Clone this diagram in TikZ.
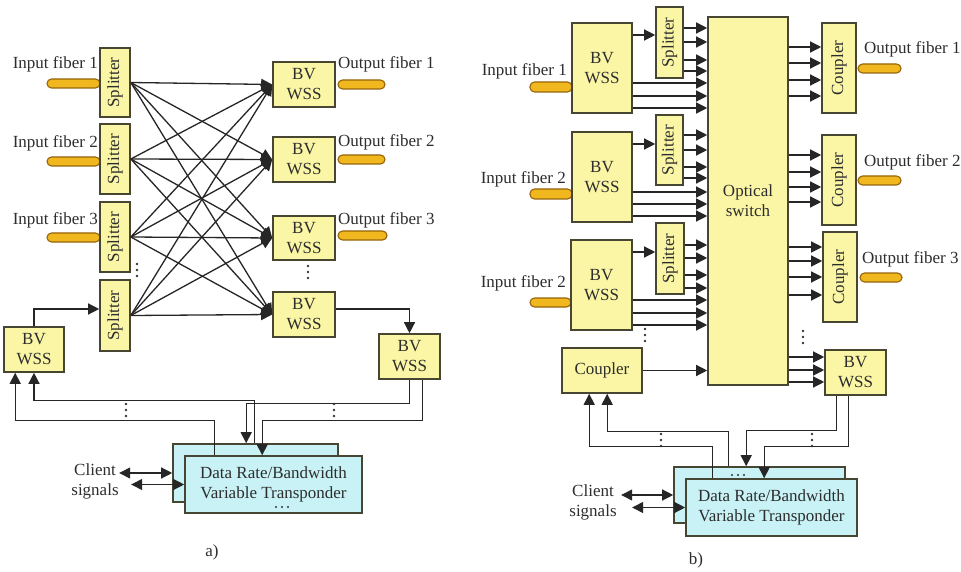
\documentclass[tikz,border=0pt]{standalone}
\usepackage{fontspec}
\setmainfont{Liberation Serif}
\usepackage{graphicx}
\usetikzlibrary{arrows.meta,calc}
\definecolor{boxy}{RGB}{250,246,165}
\definecolor{boxd}{RGB}{70,70,50}
\definecolor{fibf}{RGB}{240,184,30}
\definecolor{fibd}{RGB}{150,100,10}
\definecolor{trf}{RGB}{200,242,245}
\definecolor{txt}{RGB}{45,45,45}
\newcommand{\myvdots}[2]{\foreach \k in {-6,0,6}{\fill[black!80] (#1,#2+\k) circle (1.3pt);}}
\newcommand{\myhdots}[2]{\foreach \k in {-6,0,6}{\fill[black!80] (#1+\k,#2) circle (1.2pt);}}
\begin{document}
\begin{tikzpicture}[x=1pt,y=-1pt,
  box/.style={draw=boxd,fill=boxy,line width=1.6pt,inner sep=0pt,align=center,font=\fontsize{17}{20}\selectfont,text=txt},
  trbox/.style={box,fill=trf},
  fiber/.style={draw=fibd,fill=fibf,line width=1.1pt,rounded corners=4.5pt},
  lbl/.style={font=\fontsize{17}{20}\selectfont,text=txt,inner sep=0pt},
  arr/.style={draw=black!85,line width=1.3pt,-{Triangle[length=11pt,width=11pt]}},
  darr/.style={draw=black!85,line width=1.3pt,{Triangle[length=11pt,width=11pt]}-{Triangle[length=11pt,width=11pt]}},
  ln/.style={draw=black!85,line width=1.3pt}
]
\fill[white] (0,0) rectangle (961,572);
\useasboundingbox (0,0) rectangle (961,572);

% ================= (a) =================
% fibers
\draw[fiber] (47,79) rectangle (100,88);
\draw[fiber] (47,157) rectangle (100,166);
\draw[fiber] (47,233) rectangle (100,242);
\draw[fiber] (338,80) rectangle (385,89);
\draw[fiber] (338,155) rectangle (385,164);
\draw[fiber] (338,231) rectangle (387,240);

\node[box,minimum width=30pt,minimum height=69pt] (spA1) at (115,82.5) {\rotatebox{90}{Splitter}};
\node[box,minimum width=30pt,minimum height=70pt] (spA2) at (115,159) {\rotatebox{90}{Splitter}};
\node[box,minimum width=30pt,minimum height=70pt] (spA3) at (115,237) {\rotatebox{90}{Splitter}};
\node[box,minimum width=30pt,minimum height=71pt] (spA4) at (115,315.5) {\rotatebox{90}{Splitter}};
\node[box,minimum width=62pt,minimum height=45pt] (wA1) at (304,84.5) {BV\\WSS};
\node[box,minimum width=62pt,minimum height=45pt] (wA2) at (304,159.5) {BV\\WSS};
\node[box,minimum width=62pt,minimum height=44pt] (wA3) at (304,238) {BV\\WSS};
\node[box,minimum width=62pt,minimum height=45pt] (wA4) at (304,314.5) {BV\\WSS};
\node[box,minimum width=60pt,minimum height=45pt] (wAL) at (34,349.5) {BV\\WSS};
\node[box,minimum width=61pt,minimum height=45pt] (wAR) at (409.5,356.5) {BV\\WSS};
\node[trbox,minimum width=165pt,minimum height=58pt] (trAb) at (255.5,473) {};
\node[trbox,minimum width=177pt,minimum height=57pt] (trAf) at (273.5,484.5) {Data Rate/Bandwidth\\Variable Transponder};

\node[lbl,anchor=base east] (inA1) at (98,68.5) {Input fiber 1};
\node[lbl,anchor=base east] (inA2) at (98,148) {Input fiber 2};
\node[lbl,anchor=base east] (inA3) at (98,225) {Input fiber 3};
\node[lbl,anchor=base west] (outA1) at (338,69) {Output fiber 1};
\node[lbl,anchor=base west] (outA2) at (338,147) {Output fiber 2};
\node[lbl,anchor=base west] (outA3) at (338,225) {Output fiber 3};

\foreach \i in {1,...,4}{\foreach \j in {1,...,4}{\draw[arr] (spA\i.east) -- (wA\j.west);}}

\draw[arr] (wAL.north) -- (wAL.north |- 0,309) -- (spA4.west |- 0,309);
\draw[arr] (wA4.east |- 0,309) -| (wAR.north);

\draw[arr] ($(trAf.north west)+(30,0)$) |- ($(wAL.south west)+(12,48)$) -- ($(wAL.south west)+(12,0)$);
\draw[arr] ($(trAb.north west)+(82,0)$) |- ($(wAL.south)+(0,28)$) -- (wAL.south);
\draw[arr] (wAR.south) -- ($(wAR.south)+(0,24)$) -| ($(trAb.north west)+(74,0)$);
\draw[arr] ($(wAR.south)+(13,0)$) -- ($(wAR.south)+(13,41)$) -| ($(trAf.north west)+(78,0)$);

\node[lbl,align=center] (cliA) at (95,481) {Client\\signals};
\draw[darr] ($(trAb.west)+(-53,0)$) -- (trAb.west);
\draw[darr] ($(trAf.west)+(-53,0)$) -- (trAf.west);

\myvdots{137}{270}
\myvdots{308}{272}
\myvdots{126}{410}
\myvdots{334}{410}
\myhdots{282}{507}

\node[lbl] (labA) at (212,552) {a)};

% ================= (b) =================
\draw[fiber] (530,82) rectangle (572,92);
\draw[fiber] (530,189) rectangle (572,199);
\draw[fiber] (530,298) rectangle (571,307);
\draw[fiber] (858,64) rectangle (901,73);
\draw[fiber] (858,176) rectangle (901,185);
\draw[fiber] (860,273) rectangle (902,282);

\node[box,minimum width=60pt,minimum height=90pt] (wB1) at (602,68) {BV\\WSS};
\node[box,minimum width=60pt,minimum height=90pt] (wB2) at (602,177) {BV\\WSS};
\node[box,minimum width=61pt,minimum height=90pt] (wB3) at (601.5,285) {BV\\WSS};
\node[box,minimum width=27pt,minimum height=71pt] (spB1) at (669.5,42.5) {\rotatebox{90}{Splitter}};
\node[box,minimum width=27pt,minimum height=70pt] (spB2) at (669.5,150) {\rotatebox{90}{Splitter}};
\node[box,minimum width=28pt,minimum height=71pt] (spB3) at (670,258.5) {\rotatebox{90}{Splitter}};
\node[box,minimum width=80pt,minimum height=45pt] (cplL) at (602,370.5) {Coupler};
\node[box,minimum width=80pt,minimum height=368pt] (sw) at (748,201) {Optical\\switch};
\node[box,minimum width=34pt,minimum height=90pt] (cpR1) at (839,68) {\rotatebox{90}{Coupler}};
\node[box,minimum width=34pt,minimum height=90pt] (cpR2) at (839,180) {\rotatebox{90}{Coupler}};
\node[box,minimum width=34pt,minimum height=90pt] (cpR3) at (840,277) {\rotatebox{90}{Coupler}};
\node[box,minimum width=61pt,minimum height=45pt] (wBR) at (855.5,372.5) {BV\\WSS};
\node[trbox,minimum width=171pt,minimum height=56pt] (trBb) at (759.5,495) {};
\node[trbox,minimum width=171pt,minimum height=57pt] (trBf) at (771.5,507.5) {Data Rate/Bandwidth\\Variable Transponder};

\node[lbl,anchor=base east] (inB1) at (567,76) {Input fiber 1};
\node[lbl,anchor=base east] (inB2) at (566,184) {Input fiber 2};
\node[lbl,anchor=base east] (inB3) at (566,287) {Input fiber 2};
\node[lbl,anchor=base west] (outB1) at (864,54) {Output fiber 1};
\node[lbl,anchor=base west] (outB2) at (864,167) {Output fiber 2};
\node[lbl,anchor=base west] (outB3) at (862,263) {Output fiber 3};

% block arrows
\draw[arr] (wB1.east |- 0,35) -- (spB1.west |- 0,35);
\draw[arr] (wB2.east |- 0,144) -- (spB2.west |- 0,144);
\draw[arr] (wB3.east |- 0,252) -- (spB3.west |- 0,252);
\foreach \y in {28,42,60,71}{\draw[arr] (spB1.east |- 0,\y) -- (sw.west |- 0,\y);}
\foreach \y in {135,150,167,178}{\draw[arr] (spB2.east |- 0,\y) -- (sw.west |- 0,\y);}
\foreach \y in {245,258,275,288}{\draw[arr] (spB3.east |- 0,\y) -- (sw.west |- 0,\y);}
\foreach \y in {83,96,108}{\draw[arr] (wB1.east |- 0,\y) -- (sw.west |- 0,\y);}
\foreach \y in {192,204,216}{\draw[arr] (wB2.east |- 0,\y) -- (sw.west |- 0,\y);}
\foreach \y in {300,313,325}{\draw[arr] (wB3.east |- 0,\y) -- (sw.west |- 0,\y);}
\draw[arr] (cplL.east) -- (sw.west |- cplL.east);
\foreach \y in {47,63,80,96}{\draw[arr] (sw.east |- 0,\y) -- (cpR1.west |- 0,\y);}
\foreach \y in {155,172,187,202}{\draw[arr] (sw.east |- 0,\y) -- (cpR2.west |- 0,\y);}
\foreach \y in {247,261,277,295}{\draw[arr] (sw.east |- 0,\y) -- (cpR3.west |- 0,\y);}
\foreach \y in {357,370,382}{\draw[arr] (sw.east |- 0,\y) -- (wBR.west |- 0,\y);}

% feedback
\draw[arr] ($(trBf.north west)+(27,0)$) |- ($(cplL.south west)+(28,53)$) -- ($(cplL.south west)+(28,0)$);
\draw[arr] ($(trBb.north west)+(55,0)$) |- ($(cplL.south west)+(46,38)$) -- ($(cplL.south west)+(46,0)$);
\draw[arr] ($(wBR.south west)+(12,0)$) -- ($(wBR.south west)+(12,35)$) -| ($(trBb.north west)+(73,0)$);
\draw[arr] ($(wBR.south west)+(24,0)$) -- ($(wBR.south west)+(24,51)$) -| ($(trBf.north west)+(79,0)$);

\node[lbl,align=center] (cliB) at (593,502) {Client\\signals};
\draw[darr] ($(trBb.west)+(-52,0)$) -- (trBb.west);
\draw[darr] ($(trBf.west)+(-53,0)$) -- (trBf.west);

\myvdots{645}{335}
\myvdots{803}{337}
\myvdots{661}{440}
\myvdots{812}{440}
\myhdots{738}{475}

\node[lbl] (labB) at (696,560) {b)};
\end{tikzpicture}
\end{document}
